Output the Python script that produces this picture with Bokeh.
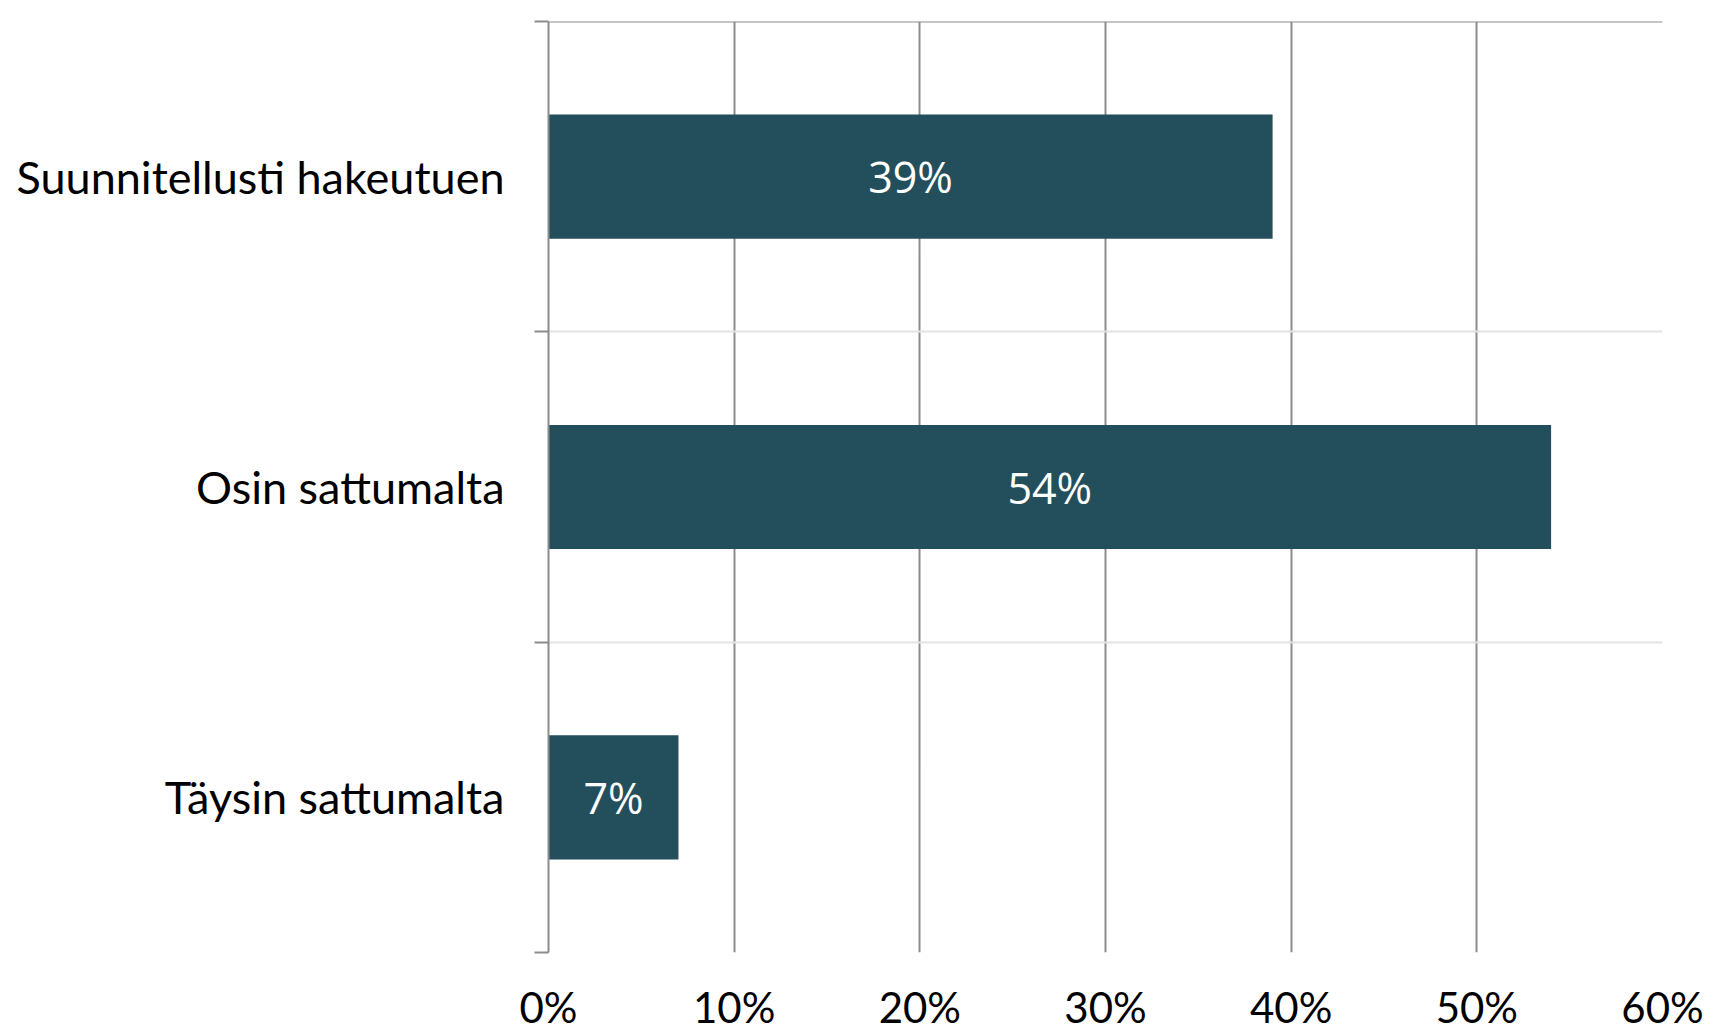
from bokeh.plotting import figure
from bokeh.models import FixedTicker, Span, ColumnDataSource, Range1d
from bokeh.core.properties import value
from bokeh.embed import file_html
from bokeh.resources import INLINE

categories = ["Suunnitellusti hakeutuen", "Osin sattumalta", "Täysin sattumalta"]
values = [39, 54, 7]
x_ticks = [0, 10, 20, 30, 40, 50, 60]
x_tick_labels = ["0%", "10%", "20%", "30%", "40%", "50%", "60%"]

n = len(categories)
ypos = [n - i - 0.5 for i in range(n)]
labels = [f"{v}%" for v in values]

src = ColumnDataSource(dict(y=ypos, v=values, mid=[v / 2 for v in values], lab=labels))

p = figure(width=1717, height=1034, output_backend="svg", toolbar_location=None,
           x_range=Range1d(0, 60), y_range=Range1d(0, n),
           min_border_left=548, min_border_right=55, min_border_top=21, min_border_bottom=70)
p.outline_line_color = None
p.background_fill_color = "white"
p.border_fill_color = "white"

p.hbar(y="y", right="v", left=0, height=0.4, source=src, fill_color="#234e5c", line_color=None)
p.text(x="mid", y="y", text="lab", source=src, text_color="white",
       text_font=value("Open Sans"), text_font_size="43px",
       text_align="center", text_baseline="middle")

# x axis
p.xaxis.ticker = FixedTicker(ticks=x_ticks)
p.xaxis.major_label_overrides = {t: l for t, l in zip(x_ticks, x_tick_labels)}
p.xaxis.axis_line_color = None
p.xaxis.major_tick_line_color = None
p.xaxis.minor_tick_line_color = None
p.xaxis.major_label_text_font = "Lato"
p.xaxis.major_label_text_font_size = "42px"
p.xaxis.major_label_text_color = "black"
p.xaxis.major_label_standoff = 23

# y axis
p.yaxis.ticker = FixedTicker(ticks=ypos, minor_ticks=list(range(n + 1)))
p.yaxis.major_label_overrides = {y: c for y, c in zip(ypos, categories)}
p.yaxis.axis_line_color = "#8c8c8c"
p.yaxis.axis_line_width = 2
p.yaxis.major_tick_line_color = None
p.yaxis.major_tick_out = 0
p.yaxis.major_tick_in = 0
p.yaxis.minor_tick_line_color = "#8c8c8c"
p.yaxis.minor_tick_line_width = 2
p.yaxis.minor_tick_out = 14
p.yaxis.minor_tick_in = 0
p.yaxis.major_label_text_font = "Lato"
p.yaxis.major_label_text_font_size = "45px"
p.yaxis.major_label_text_color = "black"
p.yaxis.major_label_standoff = 30

# grids
p.xgrid.ticker = FixedTicker(ticks=x_ticks)
p.xgrid.grid_line_color = "#8c8c8c"
p.xgrid.grid_line_width = 2
p.ygrid.ticker = FixedTicker(ticks=list(range(n + 1)))
p.ygrid.grid_line_color = "#e3e3e3"
p.ygrid.grid_line_width = 2
p.add_layout(Span(location=n, dimension="width", line_color="#8c8c8c", line_width=2))

open("out.html", "w").write(file_html(p, INLINE))
